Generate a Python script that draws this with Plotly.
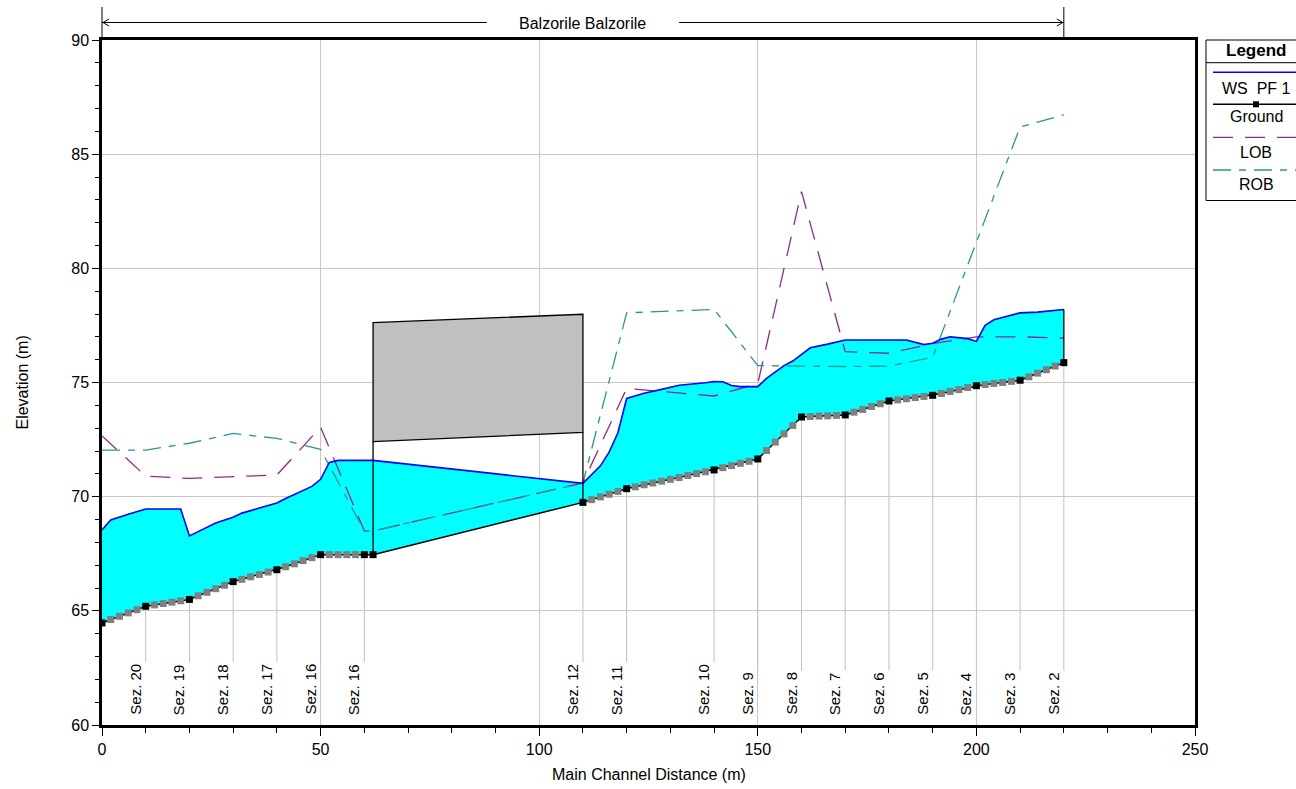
import plotly.graph_objects as go

# ---------------- data ----------------
reach_name = "Balzorile Balzorile"

sec_x = [0, 10, 20, 30, 40, 50, 60, 62, 110, 120, 140, 150, 160, 170, 180, 190, 200, 210, 220]
sec_ground = [64.47, 65.20, 65.50, 66.28, 66.80, 67.46, 67.46, 67.46, 69.75, 70.35, 71.17,
              71.65, 73.49, 73.58, 74.19, 74.44, 74.86, 75.10, 75.87]
lob = [72.66, 70.90, 70.80, 70.88, 70.95, 73.04, 68.50, 68.50, 70.60, 74.74, 74.41,
       74.95, 83.36, 76.35, 76.28, 76.70, 77.00, 77.00, 76.95]
rob = [72.04, 72.04, 72.34, 72.77, 72.55, 72.07, 68.50, 68.50, 70.60, 78.05, 78.20,
       75.74, 75.72, 75.70, 75.72, 76.10, 81.15, 86.19, 86.72]

interp_x = [2, 4, 6, 8, 12, 14, 16, 18, 22, 24, 26, 28, 32, 34, 36, 38, 42, 44, 46, 48,
            52, 54, 56, 58, 112, 114, 116, 118, 122, 124, 126, 128, 130, 132, 134, 136, 138,
            142, 144, 146, 148, 152, 154, 156, 158, 162, 164, 166, 168, 172, 174, 176, 178,
            182, 184, 186, 188, 192, 194, 196, 198, 202, 204, 206, 208, 212, 214, 216, 218]
interp_ground = [64.62, 64.76, 64.91, 65.05, 65.26, 65.32, 65.38, 65.44, 65.66, 65.81, 65.97, 66.12,
                 66.38, 66.49, 66.59, 66.70, 66.93, 67.06, 67.20, 67.33, 67.46, 67.46, 67.46, 67.46,
                 69.87, 69.99, 70.11, 70.23, 70.43, 70.52, 70.60, 70.68, 70.76, 70.84, 70.93, 71.01,
                 71.09, 71.27, 71.36, 71.46, 71.55, 72.02, 72.39, 72.75, 73.12, 73.51, 73.53, 73.54,
                 73.56, 73.70, 73.82, 73.95, 74.07, 74.24, 74.29, 74.34, 74.39, 74.52, 74.61, 74.69,
                 74.78, 74.91, 74.96, 75.00, 75.05, 75.25, 75.41, 75.56, 75.72]

ws_x = [0, 2, 6, 10, 18, 20, 22, 26, 30, 32, 36, 40, 42, 48, 50, 52, 54, 62, 110, 114, 116,
        118, 120, 124, 128, 132, 138, 140, 142, 144, 146, 150, 152, 156, 158, 160, 162, 166,
        168, 170, 184, 186, 188, 190, 192, 194, 198, 200, 202, 204, 208, 210, 214, 216, 220]
ws_y = [68.54, 68.98, 69.23, 69.46, 69.46, 68.28, 68.47, 68.85, 69.10, 69.28, 69.50, 69.72,
        69.92, 70.45, 70.76, 71.50, 71.59, 71.59, 70.58, 71.35, 71.95, 72.80, 74.30, 74.53,
        74.70, 74.88, 74.99, 75.04, 75.03, 74.87, 74.82, 74.82, 75.18, 75.74, 75.94, 76.25,
        76.52, 76.68, 76.76, 76.86, 76.86, 76.77, 76.66, 76.72, 76.90, 77.00, 76.92, 76.80,
        77.50, 77.75, 77.94, 78.05, 78.08, 78.12, 78.20]

sez_x = [10, 20, 30, 40, 50, 60, 110, 120, 140, 150, 160, 170, 180, 190, 200, 210, 220]
sez_labels = ["Sez. 20", "Sez. 19", "Sez. 18", "Sez. 17", "Sez. 16", "Sez. 16", "Sez. 12",
              "Sez. 11", "Sez. 10", "Sez. 9", "Sez. 8", "Sez. 7", "Sez. 6", "Sez. 5",
              "Sez. 4", "Sez. 3", "Sez. 2"]

bridge_x = [62, 110]
bridge_high = [77.62, 77.99]
bridge_low = [72.41, 72.82]

legend_names = ["WS  PF 1", "Ground", "LOB", "ROB"]

# ---------------- styling / layout constants ----------------
FONT = "Liberation Sans, Arial, sans-serif"
W, H = 1296, 789
PLOT_L, PLOT_R, PLOT_T, PLOT_B = 102, 1195, 40, 725   # pixels of the plot frame
ML, MT = PLOT_L, PLOT_T
MR, MB = W - PLOT_R, H - PLOT_B
PW, PH = W - ML - MR, H - MT - MB
XR, YR = [0, 250], [60, 90]
C_WS, C_FILL = "#0000FF", "#00FFFF"
C_LOB, C_ROB = "#8E2A8E", "#2E9494"
DASH_LOB = "20px,12px"
DASH_ROB = "18px,8px,7px,8px"


def px2paper_x(p):
    return (p - PLOT_L) / PW


def px2paper_y(p):
    return (PLOT_B - p) / PH


def xdata2paper(v):
    return (v - XR[0]) / (XR[1] - XR[0])


def px2data_y(p):
    return YR[1] - (p - PLOT_T) * (YR[1] - YR[0]) / PH


# merged ground profile
ground = sorted(zip(sec_x + interp_x, sec_ground + interp_ground))
g_x = [p[0] for p in ground]
g_y = [p[1] for p in ground]

fig = go.Figure()

fig.add_trace(go.Scatter(x=ws_x + g_x[::-1], y=ws_y + g_y[::-1], fill="toself",
                         fillcolor=C_FILL, mode="lines", line=dict(width=0),
                         hoverinfo="skip", showlegend=False))
fig.add_trace(go.Scatter(x=sec_x, y=lob, mode="lines", name="LOB",
                         line=dict(color=C_LOB, width=1.3, dash=DASH_LOB), showlegend=False))
fig.add_trace(go.Scatter(x=sec_x, y=rob, mode="lines", name="ROB",
                         line=dict(color=C_ROB, width=1.3, dash=DASH_ROB), showlegend=False))
fig.add_trace(go.Scatter(x=ws_x, y=ws_y, mode="lines", name="WS PF 1",
                         line=dict(color=C_WS, width=1.6), showlegend=False))
fig.add_trace(go.Scatter(x=g_x, y=g_y, mode="lines", name="Ground",
                         line=dict(color="black", width=1.5), showlegend=False))
fig.add_trace(go.Scatter(x=interp_x, y=interp_ground, mode="markers",
                         marker=dict(symbol="square", size=7, color="#808080"),
                         showlegend=False, hoverinfo="skip"))
fig.add_trace(go.Scatter(x=sec_x, y=sec_ground, mode="markers",
                         marker=dict(symbol="square", size=7, color="black"),
                         showlegend=False, hoverinfo="skip"))

shapes = []
annotations = []

# bridge deck
shapes.append(dict(type="path", xref="x", yref="y", layer="above",
                   path=f"M {bridge_x[0]},{bridge_low[0]} L {bridge_x[0]},{bridge_high[0]} "
                        f"L {bridge_x[1]},{bridge_high[1]} L {bridge_x[1]},{bridge_low[1]} Z",
                   fillcolor="#C0C0C0", line=dict(color="black", width=1.3)))
gmap = dict(zip(sec_x, sec_ground))
for bx, bl in zip(bridge_x, bridge_low):
    shapes.append(dict(type="line", xref="x", yref="y", layer="above",
                       x0=bx, x1=bx, y0=gmap[bx], y1=bl, line=dict(color="black", width=1.3)))
shapes.append(dict(type="line", xref="x", yref="y", layer="above",
                   x0=ws_x[-1], x1=ws_x[-1], y0=g_y[-1], y1=ws_y[-1],
                   line=dict(color="black", width=1.3)))

# section lines + labels
LABEL_FS = 15
label_base_py = 716
base_y = px2data_y(label_base_py)
for sx, lab in zip(sez_x, sez_labels):
    ndig = len(lab) - 5
    text_len = LABEL_FS * (2.835 + 0.556 * (ndig - 1))
    top_y = px2data_y(label_base_py - text_len - 3)
    shapes.append(dict(type="line", xref="x", yref="y", layer="below",
                       x0=sx, x1=sx, y0=gmap[sx], y1=top_y,
                       line=dict(color="#C0C0C0", width=1)))
    annotations.append(dict(x=sx, y=base_y, xref="x", yref="y", text=lab, showarrow=False,
                            textangle=-90, xanchor="right", yanchor="bottom", xshift=-1,
                            font=dict(family=FONT, size=LABEL_FS, color="black"), borderpad=0))

# reach banner above the plot
y_arrow = px2paper_y(22.5)
y_top = px2paper_y(7)
for xv in [sec_x[0], sec_x[-1]]:
    shapes.append(dict(type="line", xref="paper", yref="paper", x0=xdata2paper(xv), x1=xdata2paper(xv),
                       y0=1, y1=y_top, line=dict(color="black", width=1)))
mid = (sec_x[0] + sec_x[-1]) / 2
gap = 22
shapes.append(dict(type="line", xref="paper", yref="paper", x0=xdata2paper(sec_x[0]),
                   x1=xdata2paper(mid - gap), y0=y_arrow, y1=y_arrow, line=dict(color="black", width=1)))
shapes.append(dict(type="line", xref="paper", yref="paper", x0=xdata2paper(mid + gap),
                   x1=xdata2paper(sec_x[-1]), y0=y_arrow, y1=y_arrow, line=dict(color="black", width=1)))
ah_w, ah_h = 7 / PW, 3.5 / PH
xl, xr = xdata2paper(sec_x[0]), xdata2paper(sec_x[-1])
shapes.append(dict(type="path", xref="paper", yref="paper",
                   path=f"M {xl + ah_w},{y_arrow + ah_h} L {xl + 0.001},{y_arrow} L {xl + ah_w},{y_arrow - ah_h}",
                   line=dict(color="black", width=1)))
shapes.append(dict(type="path", xref="paper", yref="paper",
                   path=f"M {xr - ah_w},{y_arrow + ah_h} L {xr - 0.001},{y_arrow} L {xr - ah_w},{y_arrow - ah_h}",
                   line=dict(color="black", width=1)))
annotations.append(dict(x=xdata2paper(mid), y=px2paper_y(24), xref="paper", yref="paper",
                        text=reach_name, showarrow=False, xanchor="center", yanchor="middle",
                        font=dict(family=FONT, size=16, color="black")))

# axis titles
annotations.append(dict(x=0.5, y=px2paper_y(774), xref="paper", yref="paper",
                        text="Main Channel Distance (m)", showarrow=False, xanchor="center",
                        yanchor="middle", font=dict(family=FONT, size=16, color="black")))
annotations.append(dict(x=px2paper_x(22), y=0.5, xref="paper", yref="paper",
                        text="Elevation (m)", showarrow=False, textangle=-90, xanchor="center",
                        yanchor="middle", font=dict(family=FONT, size=16, color="black")))

# custom legend box
lx0, lx1 = px2paper_x(1206), px2paper_x(1320)
shapes.append(dict(type="rect", xref="paper", yref="paper", x0=lx0, x1=lx1,
                   y0=px2paper_y(200.5), y1=px2paper_y(40), line=dict(color="black", width=1),
                   fillcolor="white", layer="above"))
shapes.append(dict(type="line", xref="paper", yref="paper", x0=lx0, x1=lx1,
                   y0=px2paper_y(62.7), y1=px2paper_y(62.7), line=dict(color="black", width=1)))
tx = px2paper_x(1256)
annotations.append(dict(x=tx, y=px2paper_y(50.5), xref="paper", yref="paper", text="<b>Legend</b>",
                        showarrow=False, xanchor="center", yanchor="middle",
                        font=dict(family=FONT, size=17, color="black")))
leg_line_py = [72.3, 104.3, 137.3, 170]
leg_text_py = [88, 116.7, 152.3, 185]
leg_styles = [dict(color=C_WS, width=1.6), dict(color="black", width=1.5),
              dict(color=C_LOB, width=1.3, dash=DASH_LOB), dict(color=C_ROB, width=1.3, dash=DASH_ROB)]
for name, lpy, tpy, st in zip(legend_names, leg_line_py, leg_text_py, leg_styles):
    shapes.append(dict(type="line", xref="paper", yref="paper", x0=px2paper_x(1213), x1=lx1,
                       y0=px2paper_y(lpy), y1=px2paper_y(lpy), line=st))
    annotations.append(dict(x=tx, y=px2paper_y(tpy), xref="paper", yref="paper", text=name,
                            showarrow=False, xanchor="center", yanchor="middle",
                            font=dict(family=FONT, size=16, color="black")))
shapes.append(dict(type="rect", xref="paper", yref="paper", xsizemode="pixel", ysizemode="pixel",
                   xanchor=tx, yanchor=px2paper_y(leg_line_py[1]), x0=-3, x1=3, y0=-3, y1=3,
                   fillcolor="black", line=dict(color="black", width=0)))

fig.update_layout(
    width=W, height=H,
    margin=dict(l=ML, r=MR, t=MT, b=MB, pad=0),
    paper_bgcolor="white", plot_bgcolor="white",
    showlegend=False,
    font=dict(family=FONT, size=16, color="black"),
    shapes=shapes, annotations=annotations,
    xaxis=dict(range=XR, dtick=50, tick0=0, showgrid=True, gridcolor="#C8C8C8", gridwidth=1,
               zeroline=False, showline=True, linecolor="black", linewidth=2.5, mirror=True,
               ticks="outside", ticklen=8, tickwidth=1, tickcolor="black",
               tickfont=dict(family=FONT, size=16),
               minor=dict(dtick=10, ticks="outside", ticklen=5, tickcolor="black", showgrid=False)),
    yaxis=dict(range=YR, dtick=5, tick0=60, showgrid=True, gridcolor="#C8C8C8", gridwidth=1,
               zeroline=False, showline=True, linecolor="black", linewidth=2.5, mirror=True,
               ticks="outside", ticklen=7, tickwidth=1, tickcolor="black",
               tickfont=dict(family=FONT, size=16),
               minor=dict(dtick=1, ticks="outside", ticklen=4, tickcolor="black", showgrid=False)),
)

# remove the default page margin so the figure fills the 1296x789 window exactly
fig.write_html("out.html", config={"displayModeBar": False},
               post_script="document.body.style.margin='0';document.body.style.overflow='hidden';")
